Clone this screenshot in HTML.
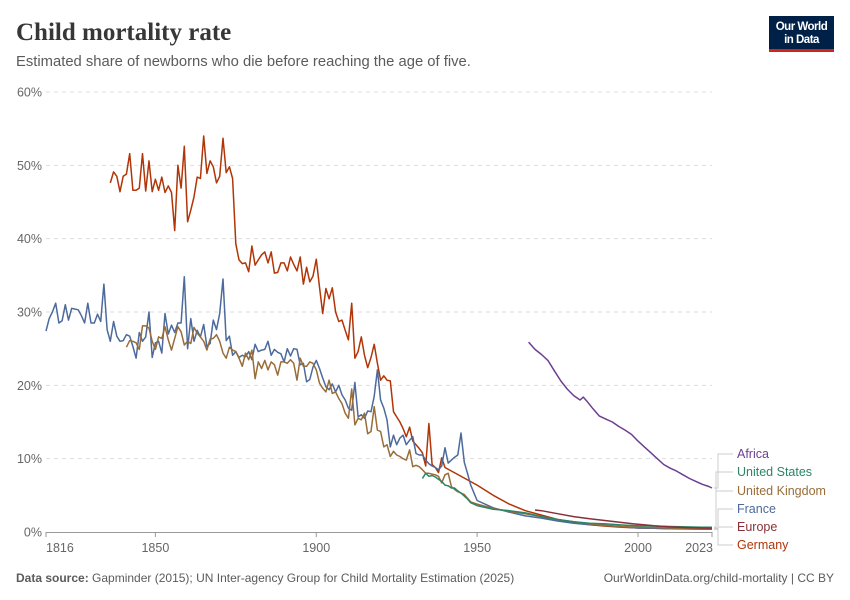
<!DOCTYPE html>
<html><head><meta charset="utf-8">
<style>
body{margin:0;background:#fff;}
#wrap{position:relative;width:850px;height:600px;overflow:hidden;font-family:"Liberation Sans",sans-serif;}
</style></head>
<body>
<div id="wrap">
<svg id="chart" width="850" height="600">
  <text x="16" y="40" font-family="Liberation Serif, serif" font-size="25" font-weight="bold" fill="#373737">Child mortality rate</text>
  <text x="16" y="66" font-size="14.8" fill="#5b5b5b">Estimated share of newborns who die before reaching the age of five.</text>
  <g>
    <rect x="769" y="16" width="65" height="34" fill="#002147"/>
    <rect x="769" y="49" width="65" height="3" fill="#ce261e"/>
    <text x="801.5" y="30" text-anchor="middle" font-size="11.5" font-weight="bold" fill="#fff" letter-spacing="-0.5">Our World</text>
    <text x="801.5" y="43" text-anchor="middle" font-size="11.5" font-weight="bold" fill="#fff" letter-spacing="-0.5">in Data</text>
  </g>
  <g id="grid"></g>
  <g id="xaxis"></g>
  <g id="series"></g>
  <g id="legend"></g>
  <text x="16" y="582" font-size="12" fill="#5b5b5b"><tspan font-weight="bold">Data source:</tspan> Gapminder (2015); UN Inter-agency Group for Child Mortality Estimation (2025)</text>
  <text x="834" y="582" text-anchor="end" font-size="12" fill="#5b5b5b">OurWorldinData.org/child-mortality | CC BY</text>
</svg>
</div>
<script>
const yTicks = [0,10,20,30,40,50,60];
const xTickYears = [1816,1850,1900,1950,2000,2023];

const germanyStart = 1836;
const germanyAnnual = [47.6,49.1,48.5,46.4,48.5,48.8,51.6,46.6,46.6,46.9,51.6,46.5,50.6,46.4,48.1,46.6,48.4,46.3,47.2,46.3,41.1,50.0,46.9,52.6,42.3,43.9,45.7,48.4,48.2,54.0,48.9,50.6,49.8,47.6,48.5,53.7,49.0,49.8,48.2,
39.3,37.1,36.6,36.7,35.5,39.0,36.4,37.1,37.8,38.2,36.7,38.2,35.3,35.4,36.7,36.7,35.6,37.5,36.5,35.6,37.5,33.8,36.1,34.1,34.9,37.2,33.4,29.8,33.2,31.8,33.3,30.0,28.7,28.9,27.5,26.2,31.2,23.7,24.6,26.6,24.1,22.4,23.8,25.6,23.0,20.7,21.3,20.7,20.6,16.4,15.7,15.0,14.1,13.0,14.3,12.4,11.9,11.4,10.8,9.0,14.8,9.2,8.8,8.1,10.1,8.8];
const germanyTailYears = [1950,1955,1960,1965,1970,1975,1980,1985,1990,1995,2000,2005,2010,2015,2020,2023];
const germanyTailValues = [6.4,5.0,3.8,2.9,2.3,1.7,1.3,1.0,0.8,0.65,0.55,0.5,0.45,0.42,0.4,0.38];

const franceStart = 1816;
const franceAnnual = [27.4,29.1,30.0,31.2,28.5,28.8,31.0,28.9,30.5,30.4,30.3,29.5,28.5,31.2,28.5,28.5,29.7,28.7,33.8,27.6,26.0,28.7,26.7,26.0,26.1,26.9,26.7,25.3,23.7,27.2,26.0,26.6,30.0,23.8,25.8,26.0,24.4,29.8,27.0,28.2,27.2,28.5,28.5,34.8,25.0,29.1,26.0,27.5,26.6,28.3,25.3,25.7,28.9,27.6,29.8,34.5,26.1,26.7,24.1,24.6,23.8,
24.1,23.9,24.6,23.5,25.6,24.6,24.8,24.9,26.0,24.1,24.9,24.5,24.3,23.2,25.0,24.0,25.0,24.9,22.8,23.0,20.5,20.8,22.5,23.4,22.3,21.0,19.8,19.4,20.2,19.1,20.0,18.7,18.0,16.9,16.6,20.4,15.7,16.0,15.5,16.5,16.4,18.5,22.1,18.0,16.9,15.3,11.6,13.2,11.9,12.8,13.2,11.9,12.5,13.0,10.7,10.5,10.5,9.8,9.3,
9.0,8.8,8.5,9.0,11.5,9.4,9.8,10.2,10.5,13.5,9.5,8.0,6.4];
const franceTailYears = [1950,1955,1960,1965,1970,1975,1980,1985,1990,1995,2000,2005,2010,2015,2020,2023];
const franceTailValues = [4.3,3.3,2.7,2.2,1.9,1.5,1.2,1.0,0.9,0.7,0.55,0.5,0.45,0.42,0.4,0.4];

const ukStart = 1841;
const ukAnnual = [25.2,26.1,26.0,25.8,24.9,28.1,28.1,27.8,26.0,24.9,26.6,26.4,28.0,26.2,24.8,26.4,28.0,27.3,25.5,26.0,25.7,27.9,27.1,26.6,26.0,24.8,26.3,26.4,26.9,26.0,24.4,23.7,25.2,24.8,24.6,
23.7,22.6,24.4,23.5,24.8,20.9,23.2,22.3,23.4,22.1,23.2,22.8,21.4,23.2,23.2,23.0,23.5,23.0,20.7,23.7,22.6,22.6,23.2,23.0,22.1,20.3,19.6,19.1,20.7,18.9,19.1,18.2,17.5,16.2,15.5,19.5,14.6,15.5,15.3,16.2,13.4,13.7,17.1,13.9,13.7,11.6,11.9,10.3,11.0,10.5,10.3,10.0,9.8,11.2,8.9,9.1,8.9,8.5,8.0,
8.0,7.9,7.8,7.6,6.7,7.8,8.0,6.2,5.8,5.5,5.3,5.1,4.6,4.1];
const ukTailYears = [1950,1955,1960,1965,1970,1975,1980,1985,1990,1995,2000,2005,2010,2015,2020,2023];
const ukTailValues = [3.8,3.2,2.8,2.5,2.1,1.7,1.4,1.1,0.9,0.75,0.65,0.6,0.55,0.48,0.43,0.42];

const usYears = [1933,1934,1935,1936,1937,1938,1939,1940,1941,1942,1943,1944,1945,1946,1947,1948,1950,1955,1960,1965,1970,1975,1980,1985,1990,1995,2000,2005,2010,2015,2020,2023];
const usValues = [7.3,8.0,7.6,7.7,7.5,7.2,6.9,6.4,6.3,6.0,6.0,5.6,5.3,4.9,4.5,4.0,3.6,3.1,2.9,2.6,2.1,1.7,1.4,1.2,1.1,0.95,0.85,0.8,0.75,0.7,0.65,0.65];

const africaYears = [1966,1968,1970,1972,1974,1976,1978,1980,1982,1983,1984,1986,1988,1990,1992,1994,1996,1998,2000,2002,2004,2006,2008,2010,2012,2014,2016,2018,2020,2022,2023];
const africaValues = [25.9,24.9,24.2,23.4,22.0,20.6,19.5,18.6,18.0,18.4,17.9,16.8,15.8,15.4,15.0,14.4,13.9,13.3,12.4,11.6,10.8,10.0,9.2,8.7,8.3,7.8,7.3,6.9,6.5,6.2,6.0];

const europeYears = [1968,1970,1975,1980,1985,1990,1995,2000,2005,2010,2015,2020,2023];
const europeValues = [3.0,2.9,2.5,2.1,1.8,1.55,1.3,1.05,0.85,0.7,0.6,0.55,0.52];

const legendNames = ["Africa","United States","United Kingdom","France","Europe","Germany"];

const NS = "http://www.w3.org/2000/svg";
const X0 = 46, X1 = 712, Y0 = 532, Y1 = 92;
const xScale = yr => X0 + (yr - 1816) / (2023 - 1816) * (X1 - X0);
const yScale = v => Y0 - v / 60 * (Y0 - Y1);
function mk(tag, attrs, parent){ const e=document.createElementNS(NS,tag); for(const k in attrs) e.setAttribute(k,attrs[k]); parent.appendChild(e); return e; }

const grid = document.getElementById('grid');
yTicks.forEach(t=>{
  if(t>0){
    const l = mk('line',{x1:X0,x2:X1,y1:yScale(t),y2:yScale(t),stroke:'#dddddd','stroke-dasharray':'4,4'},grid);
    
    
  }
  const tx = mk('text',{x:42,y:yScale(t)+4.5,'text-anchor':'end','font-size':'12.5',fill:'#666'},grid);
  tx.textContent = t+'%';
  
  
});

const xa = document.getElementById('xaxis');
const axl = mk('line',{x1:X0,x2:X1,y1:Y0+0.5,y2:Y0+0.5,stroke:'#999'},xa);


xTickYears.forEach((yr,i)=>{
  const x = xScale(yr);
  const tk = mk('line',{x1:x,x2:x,y1:Y0,y2:Y0+5,stroke:'#999'},xa);
  
  
  let anchor='middle', tx=x;
  if(i===0){anchor='start'; tx=x;}
  if(i===xTickYears.length-1){anchor='end'; tx=x+1;}
  const t = mk('text',{x:tx,y:Y0+20,'text-anchor':anchor,'font-size':'12.5',fill:'#666'},xa);
  t.textContent = yr;
  
  
});

function annualPoints(start, vals, tailY, tailV){
  const pts = vals.map((v,i)=>[start+i, v]);
  if(tailY) tailY.forEach((y,i)=>pts.push([y, tailV[i]]));
  return pts;
}
function pairPoints(ys, vs){ return ys.map((y,i)=>[y, vs[i]]); }

const seriesList = [
  {name:'germany', color:'#b13507', pts: annualPoints(germanyStart, germanyAnnual, germanyTailYears, germanyTailValues)},
  {name:'france', color:'#4c6a9c', pts: annualPoints(franceStart, franceAnnual, franceTailYears, franceTailValues)},
  {name:'united-kingdom', color:'#996d39', pts: annualPoints(ukStart, ukAnnual, ukTailYears, ukTailValues)},
  {name:'united-states', color:'#2c8465', pts: pairPoints(usYears, usValues)},
  {name:'europe', color:'#883039', pts: pairPoints(europeYears, europeValues)},
  {name:'africa', color:'#6d3e91', pts: pairPoints(africaYears, africaValues)}
];
const sg = document.getElementById('series');
seriesList.forEach(s=>{
  const d = s.pts.map((p,i)=>(i?'L':'M')+xScale(p[0]).toFixed(1)+','+yScale(p[1]).toFixed(1)).join(' ');
  const p = mk('path',{d:d,fill:'none',stroke:s.color,'stroke-width':'1.5','stroke-linejoin':'round'},sg);
  
  
});

const legendColors = {"Africa":'#6d3e91',"United States":'#2c8465',"United Kingdom":'#996d39',"France":'#4c6a9c',"Europe":'#883039',"Germany":'#b13507'};
const lg = document.getElementById('legend');
const labelY = [458,476,495,513,531,549];
const lastVals = {"Africa":africaValues[africaValues.length-1],"United States":usValues[usValues.length-1],"United Kingdom":ukTailValues[ukTailValues.length-1],"France":franceTailValues[franceTailValues.length-1],"Europe":europeValues[europeValues.length-1],"Germany":germanyTailValues[germanyTailValues.length-1]};
legendNames.forEach((n,i)=>{
  const ly = labelY[i];
  const sy = yScale(lastVals[n]);
  const ex = i===0?718:(i<3?716:718);
  const c = mk('polyline',{points:`${X1+2},${sy} ${ex},${sy} ${ex},${ly-4} ${733},${ly-4}`,fill:'none',stroke:'#ccc','stroke-width':'1'},lg);
  
  
  const t = mk('text',{x:737,y:ly,'font-size':'12.5',fill:legendColors[n]},lg);
  t.textContent = n;
  
  
});
</script>
</body></html>
